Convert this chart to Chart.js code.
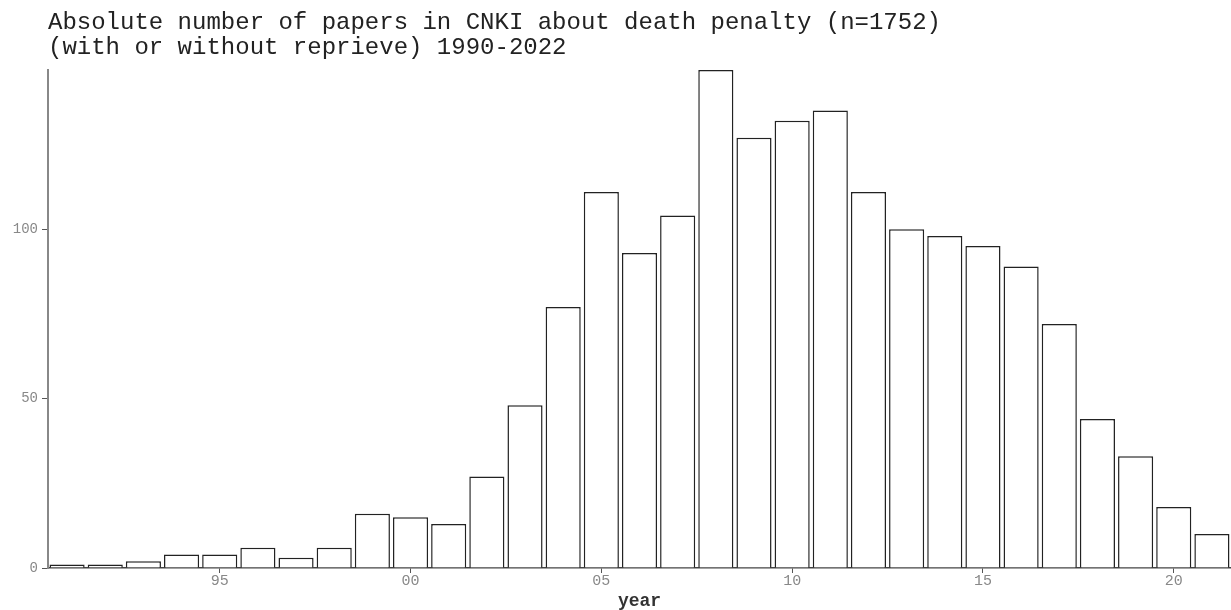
<!DOCTYPE html>
<html>
<head>
<meta charset="utf-8">
<script src="https://cdn.jsdelivr.net/npm/chart.js@4.4.1/dist/chart.umd.min.js"></script>
<style>
  html, body { margin: 0; padding: 0; background: #fff; }
</style>
</head>
<body>
<canvas id="myChart" width="1231" height="610"></canvas>
<script>
// papers per year
var years = [1991, 1992, 1993, 1994, 1995, 1996, 1997, 1998, 1999, 2000,
             2001, 2002, 2003, 2004, 2005, 2006, 2007, 2008, 2009, 2010,
             2011, 2012, 2013, 2014, 2015, 2016, 2017, 2018, 2019, 2020, 2021];
var papers = [1, 1, 2, 4, 4, 6, 3, 6, 16, 15,
              13, 27, 48, 77, 111, 93, 104, 147, 127, 132,
              135, 111, 100, 98, 95, 89, 72, 44, 33, 18, 10];
var yTicks = [0, 50, 100];
var titleLines = ["Absolute number of papers in CNKI about death penalty (n=1752)",
                  "(with or without reprieve) 1990-2022"];

var mono = "'Liberation Mono', 'DejaVu Sans Mono', monospace";

var ctx = document.getElementById("myChart").getContext('2d');
var paperChart = new Chart(ctx, {
    type: 'bar',
    data: {
        labels: years,
        datasets: [{
            label: "papers",
            data: papers,
            backgroundColor: '#ffffff',
            borderColor: '#222222',
            borderWidth: 1.5,
            barPercentage: 0.92,
            categoryPercentage: 1.0
        }]
    },
    options: {
        responsive: false,
        animation: false,
        layout: { padding: 0 },
        plugins: {
            legend: { display: false },
            tooltip: { enabled: false },
            title: {
                display: true,
                text: titleLines,
                align: 'start',
                fullSize: false,
                color: '#222',
                font: { family: mono, size: 24, weight: 'normal', lineHeight: 1.04 },
                padding: { top: 10, bottom: 10 }
            }
        },
        scales: {
            x: {
                grid: { display: true, offset: false, drawOnChartArea: false, tickLength: 5, color: '#555' },
                border: { display: true, color: '#444', width: 1.5 },
                ticks: {
                    autoSkip: false,
                    maxRotation: 0,
                    padding: 1,
                    color: '#888',
                    font: { family: mono, size: 15, lineHeight: 1.0 },
                    callback: function(value, index) {
                        var y = years[index];
                        if (y % 5 !== 0) return null;
                        return String(y).slice(2);
                    }
                },
                title: {
                    display: true,
                    text: 'year',
                    color: '#333',
                    font: { family: mono, size: 18, weight: 'bold', lineHeight: 1.0 },
                    padding: { top: 2, bottom: 0 }
                }
            },
            y: {
                min: 0,
                max: 147,
                afterFit: function(scale) { scale.width = 48; },
                grid: { display: true, drawOnChartArea: false, tickLength: 6, color: '#555' },
                border: { display: true, color: '#888', width: 2 },
                ticks: {
                    stepSize: 50,
                    padding: 4,
                    color: '#888',
                    font: { family: mono, size: 14 },
                    callback: function(value) {
                        return yTicks.indexOf(value) >= 0 ? value : null;
                    }
                }
            }
        }
    }
});
</script>
</body>
</html>
